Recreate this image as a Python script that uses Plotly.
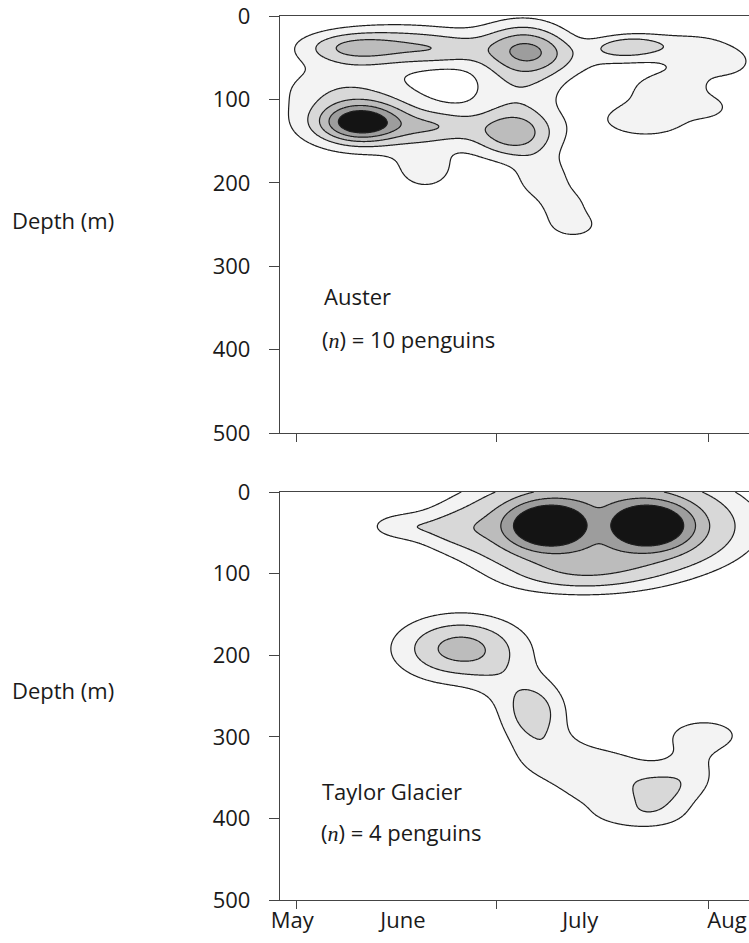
import numpy as np
import plotly.graph_objects as go

# ---------------- data ----------------
# x: days along the winter record (0..100), y: depth in metres
month_labels = ["May", "June", "July", "Aug"]
month_label_pos = [2.6, 26.2, 64.0, 95.3]
month_tick_pos = [3.6, 46.1, 91.3]
depth_ticks = [0, 100, 200, 300, 400, 500]
contour_levels = [1, 2, 3, 4, 5]

# Auster colony: dive-density hot spots (centre day, centre depth, density, spread in days, spread in m, shape)
aus_day = [17, 20, 34, 50, 26, 14, 36, 52, 58, 13, 51, 31, 56, 61, 63,
           71.5, 76.5, 68, 91, 78, 82, 92, 86, 96]
aus_depth = [128, 128, 133, 140, 36, 38, 42, 42, 44, 84, 90, 185, 195, 232, 252,
             38, 35, 55, 56, 124, 88, 110, 35, 55]
aus_density = [4.0, 2.2, 1.6, 3.6, 2.6, 1.6, 0.8, 3.7, 0.6, 1.35, 1.1, 1.4, 1.5, 1.4, 1.1,
               1.4, 1.4, 0.6, 1.1, 1.6, 1.2, 0.9, 0.9, 0.6]
aus_spread_day = [6, 12, 6, 6.5, 12, 7, 6, 6.5, 5, 10, 7.5, 5, 4.5, 4, 3.5,
                  4.5, 4.5, 8, 8, 8, 6, 4, 7, 3]
aus_spread_depth = [16, 26, 13, 22, 18, 13, 12, 24, 16, 22, 20, 20, 20, 18, 10,
                    10, 10, 16, 22, 18, 14, 12, 12, 10]
aus_shape = [2] * 24

# Taylor Glacier colony
tay_day = [68, 57, 79, 35, 25, 62, 38.5, 47, 54, 58, 66, 80, 88, 90.5, 76, 70]
tay_depth = [42, 41, 41, 45, 42, 110, 192, 235, 270, 325, 360, 367, 345, 298, 398, 335]
tay_density = [3.9, 2.0, 2.0, 1.0, 1.3, 0.8, 3.4, 0.6, 2.5, 1.4, 1.1, 2.1, 1.1, 1.4, 1.0, 0.9]
tay_spread_day = [27, 8, 8, 6, 5, 12, 9.5, 5, 5, 6, 6, 5.5, 4.5, 7, 8, 6]
tay_spread_depth = [60, 26, 26, 18, 12, 15, 28, 22, 28, 22, 25, 22, 22, 18, 14, 18]
tay_shape = [4, 4, 4] + [2] * 13

# ---------------- build the density surfaces ----------------
grid_day = np.linspace(0, 100, 401)
grid_depth = np.linspace(0, 500, 501)
GX, GD = np.meshgrid(grid_day, grid_depth)


def surface(days, depths, dens, sdays, sdepths, shapes):
    z = np.zeros_like(GX)
    for xc, dc, a, sx, sd, p in zip(days, depths, dens, sdays, sdepths, shapes):
        r2 = ((GX - xc) / sx) ** 2 + ((GD - dc) / sd) ** 2
        z += a * np.exp(-0.5 * r2 ** (p / 2.0))
    return z


z_aus = surface(aus_day, aus_depth, aus_density, aus_spread_day, aus_spread_depth, aus_shape)
z_tay = surface(tay_day, tay_depth, tay_density, tay_spread_day, tay_spread_depth, tay_shape)

band_colors = ["#ffffff", "#f3f3f3", "#d8d8d8", "#bcbcbc", "#9d9d9d", "#141414"]
colorscale = [[i / 5.0, c] for i, c in enumerate(band_colors)]


def contour(z, xa, ya):
    return go.Contour(
        x=grid_day, y=grid_depth, z=z, xaxis=xa, yaxis=ya,
        contours=dict(start=contour_levels[0], end=contour_levels[-1], size=1,
                      coloring="fill", showlines=True),
        colorscale=colorscale, showscale=False,
        line=dict(color="#1e1e1e", width=1.2, smoothing=0.8),
        hoverinfo="skip",
    )


fig = go.Figure()
fig.add_trace(contour(z_aus, "x", "y"))
fig.add_trace(contour(z_tay, "x2", "y2"))

FONT = "Open Sans, Noto Sans, sans-serif"
axis_col = "#444444"
H = 943.0

top_dom = [1 - 433 / H, 1 - 16 / H]
bot_dom = [1 - 900 / H, 1 - 492 / H]


def xaxis(anchor, labels):
    return dict(
        domain=[0, 1], anchor=anchor, range=[0, 100], automargin=False,
        showline=True, linecolor=axis_col, linewidth=1.3, mirror=True,
        showgrid=False, zeroline=False,
        tickmode="array", tickvals=month_label_pos,
        ticktext=month_labels if labels else [""] * 4,
        showticklabels=labels, ticks="", ticklabeloverflow="allow",
        tickfont=dict(family=FONT, size=22, color="#1a1a1a"),
        minor=dict(tickmode="array", tickvals=month_tick_pos, ticks="outside",
                   ticklen=8, tickwidth=1.3, tickcolor=axis_col, showgrid=False),
    )


def yaxis(anchor, dom):
    return dict(
        domain=dom, anchor=anchor, range=[500, 0], automargin=False,
        showline=True, linecolor=axis_col, linewidth=1.3,
        showgrid=False, zeroline=False,
        tickmode="array", tickvals=depth_ticks,
        ticks="outside", ticklen=10, tickwidth=1.3, tickcolor=axis_col,
        ticklabelstandoff=14, ticklabeloverflow="allow",
        tickfont=dict(family=FONT, size=22, color="#1a1a1a"),
    )


fig.update_layout(
    width=749, height=943,
    margin=dict(l=280, r=0, t=0, b=0, autoexpand=False),
    paper_bgcolor="white", plot_bgcolor="white",
    showlegend=False,
    xaxis=xaxis("y", False), yaxis=yaxis("x", top_dom),
    xaxis2=xaxis("y2", True), yaxis2=yaxis("x2", bot_dom),
)

ann_font = dict(family=FONT, size=22, color="#1a1a1a")
serif_n = '<span style="font-family:Liberation Serif"><i>n</i></span>'
annotations = [
    dict(text="Depth (m)", xref="paper", yref="paper", x=-0.575, y=1 - 220 / H,
         xanchor="left", yanchor="middle", showarrow=False, font=ann_font),
    dict(text="Depth (m)", xref="paper", yref="paper", x=-0.575, y=1 - 690 / H,
         xanchor="left", yanchor="middle", showarrow=False, font=ann_font),
    dict(text="Auster", xref="x", yref="y", x=8.9, y=336,
         xanchor="left", yanchor="middle", showarrow=False, font=ann_font),
    dict(text="(" + serif_n + ") = 10 penguins", xref="x", yref="y", x=8.5, y=387,
         xanchor="left", yanchor="middle", showarrow=False, font=ann_font),
    dict(text="Taylor Glacier", xref="x2", yref="y2", x=8.5, y=366,
         xanchor="left", yanchor="middle", showarrow=False, font=ann_font),
    dict(text="(" + serif_n + ") = 4 penguins", xref="x2", yref="y2", x=8.3, y=417,
         xanchor="left", yanchor="middle", showarrow=False, font=ann_font),
]
fig.update_layout(annotations=annotations)

fig.write_html("out.html")
